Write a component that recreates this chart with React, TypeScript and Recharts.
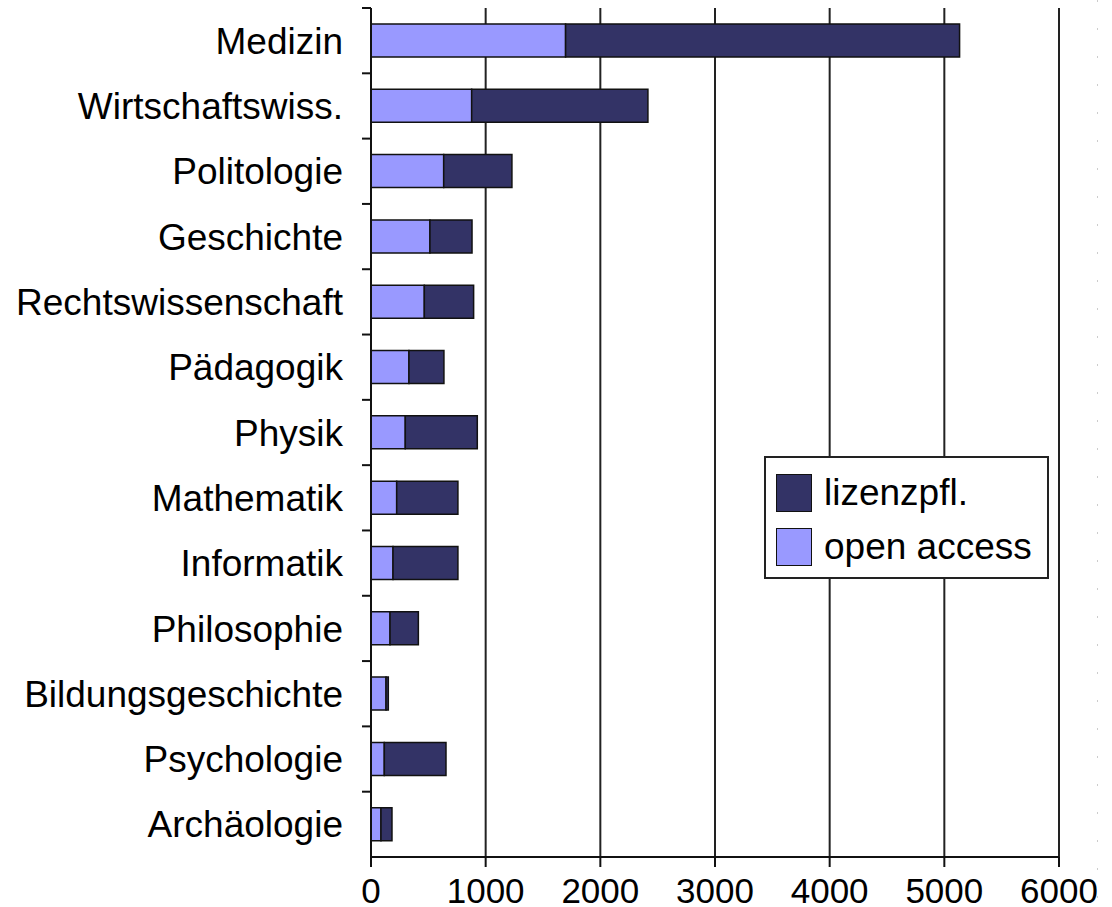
import React from "react";
import {
  BarChart,
  Bar,
  XAxis,
  YAxis,
  CartesianGrid,
  Legend,
} from "recharts";

const categories = [
  "Medizin",
  "Wirtschaftswiss.",
  "Politologie",
  "Geschichte",
  "Rechtswissenschaft",
  "Pädagogik",
  "Physik",
  "Mathematik",
  "Informatik",
  "Philosophie",
  "Bildungsgeschichte",
  "Psychologie",
  "Archäologie",
];
const openAccess = [1697, 878, 634, 514, 465, 331, 299, 224, 192, 166, 131, 116, 87];
const lizenzpfl = [3436, 1537, 595, 367, 430, 305, 628, 534, 566, 247, 20, 538, 96];
const xTicks = [0, 1000, 2000, 3000, 4000, 5000, 6000];

const data = categories.map((name, i) => ({
  name,
  oa: openAccess[i],
  lz: lizenzpfl[i],
}));

const FONT = "'Liberation Sans', Arial, sans-serif";
const OA_COLOR = "#9999ff";
const LZ_COLOR = "#333366";

const YTick = (props: any) => {
  const { x, y, payload } = props;
  const half = payload && payload.offset ? payload.offset : 32.65;
  const axisX = x + 9 + 19;
  return (
    <g>
      <line x1={axisX - 9} x2={axisX} y1={y - half} y2={y - half} stroke="#111" strokeWidth={2} />
      <text
        x={x}
        y={y}
        dy="0.355em"
        textAnchor="end"
        fontFamily={FONT}
        fontSize={37}
        fill="#000"
      >
        {payload.value}
      </text>
    </g>
  );
};

const LegendBox = () => (
  <div
    style={{
      position: "relative",
      width: 281,
      height: 119,
      border: "2px solid #222",
      background: "#fff",
      fontFamily: FONT,
      fontSize: 37,
      color: "#000",
      textAlign: "left",
    }}
  >
    {[
      { label: "lizenzpfl.", color: LZ_COLOR, top: 15 },
      { label: "open access", color: OA_COLOR, top: 69 },
    ].map((it) => (
      <div key={it.label} style={{ position: "absolute", left: 10, top: it.top, height: 39, display: "flex", alignItems: "center" }}>
        <div
          style={{
            width: 36,
            height: 38,
            background: it.color,
            border: "1.5px solid #111",
            boxSizing: "border-box",
          }}
        />
        <span style={{ marginLeft: 12, lineHeight: "39px", whiteSpace: "nowrap" }}>{it.label}</span>
      </div>
    ))}
  </div>
);

export default function App() {
  return (
    <div style={{ position: "absolute", left: 0, top: 0, width: 1112, height: 907, background: "#fff" }}>
      <BarChart
        layout="vertical"
        width={1112}
        height={907}
        data={data}
        margin={{ top: 8, right: 53, left: 0, bottom: 0 }}
        barSize={33}
      >
        <CartesianGrid horizontal={false} vertical stroke="#222" strokeWidth={2} />
        <XAxis
          type="number"
          domain={[0, 6000]}
          ticks={xTicks}
          interval={0}
          height={50}
          tickSize={10}
          tickMargin={11}
          axisLine={{ stroke: "#111", strokeWidth: 2 }}
          tickLine={{ stroke: "#111", strokeWidth: 2 }}
          tick={{ fontFamily: FONT, fontSize: 35, fill: "#000" }}
        />
        <YAxis
          type="category"
          dataKey="name"
          width={371}
          interval={0}
          tickSize={9}
          tickMargin={19}
          tickLine={false}
          axisLine={{ stroke: "#111", strokeWidth: 2 }}
          tick={<YTick />}
        />
        <Legend
          layout="horizontal"
          verticalAlign="middle"
          align="center"
          content={<LegendBox />}
          wrapperStyle={{ position: "absolute", left: 764, top: 456, width: 285, height: 123, margin: 0 }}
        />
        <Bar dataKey="oa" name="open access" stackId="s" fill={OA_COLOR} stroke="#111" strokeWidth={1.5} isAnimationActive={false} />
        <Bar dataKey="lz" name="lizenzpfl." stackId="s" fill={LZ_COLOR} stroke="#111" strokeWidth={1.5} isAnimationActive={false} />
      </BarChart>
      <div
        style={{
          position: "absolute",
          left: 1097,
          top: 0,
          width: 1,
          height: 907,
          background: "repeating-linear-gradient(to bottom, #cccccc 0px, #cccccc 2px, transparent 2px, transparent 28px)",
        }}
      />
    </div>
  );
}
